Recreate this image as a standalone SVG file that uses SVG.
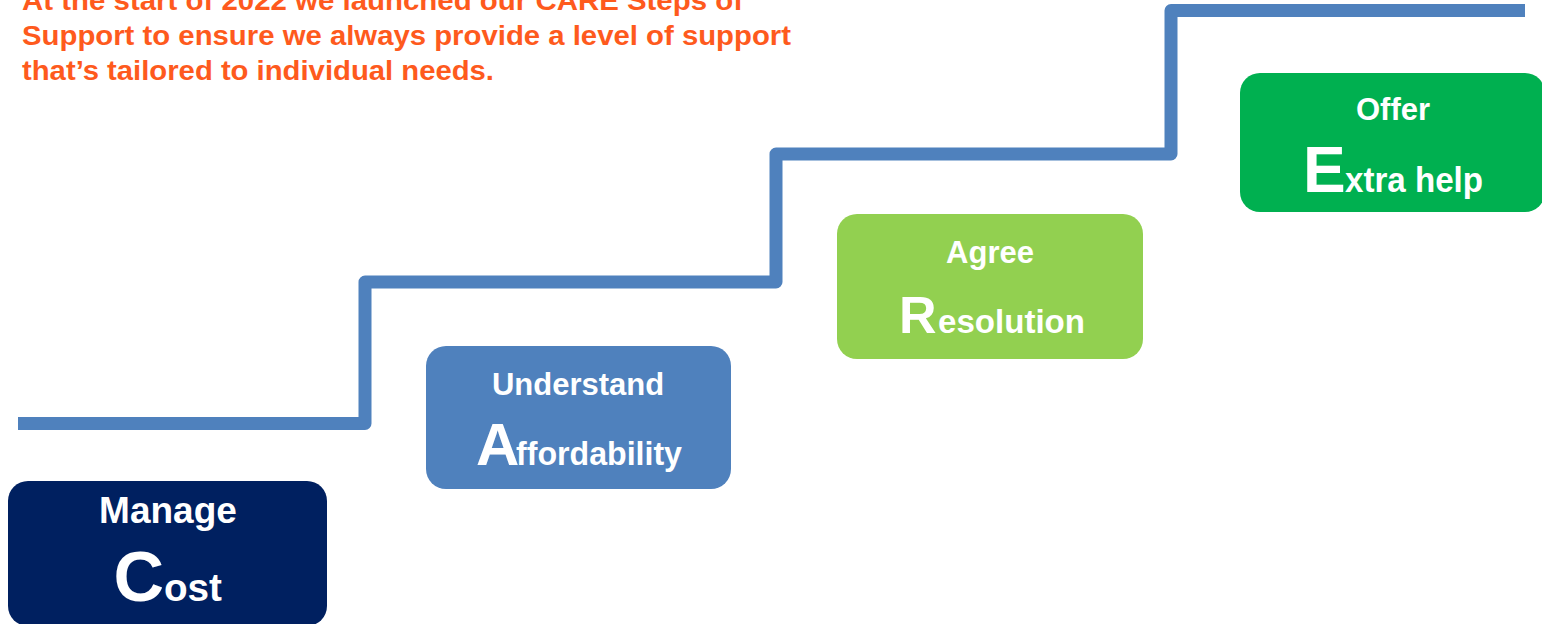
<svg xmlns="http://www.w3.org/2000/svg" width="1542" height="624" viewBox="0 0 1542 624">
  <style>
    .intro { font-family: "Liberation Sans Narrow", "Liberation Sans", Arial, sans-serif; font-weight: bold; font-size: 28px; fill: #FE5A1D; }
    .label { font-family: "Liberation Sans", Arial, sans-serif; font-weight: bold; fill: #FFFFFF; }
    .mid { text-anchor: middle; }
    .stairs { fill: none; stroke: #4F81BD; stroke-width: 13; stroke-linejoin: round; stroke-linecap: butt; }
  </style>

  <!-- introduction -->
  <g id="intro">
    <text class="intro" x="22" y="10" textLength="721" lengthAdjust="spacingAndGlyphs">At the start of 2022 we launched our CARE Steps of</text>
    <text class="intro" x="22" y="45" textLength="769" lengthAdjust="spacingAndGlyphs">Support to ensure we always provide a level of support</text>
    <text class="intro" x="22" y="80" textLength="472" lengthAdjust="spacingAndGlyphs">that’s tailored to individual needs.</text>
  </g>

  <!-- staircase connector -->
  <g id="connectors">
    <path class="stairs" d="M18 423.5 H365 V282 H776 V154 H1171 V10.5 H1525"/>
  </g>

  <!-- steps: heading word, then initial capital followed by the remainder of the word -->
  <g id="step-cost">
    <rect x="8" y="481" width="319" height="145" rx="20" fill="#002060"/>
    <text class="label mid" x="168" y="523" font-size="37">Manage</text>
    <text class="label" x="113.5" y="601" font-size="70">C</text>
    <text class="label" x="164" y="601" font-size="38" textLength="58" lengthAdjust="spacingAndGlyphs">ost</text>
  </g>

  <g id="step-affordability">
    <rect x="426" y="346" width="305" height="143" rx="20" fill="#4F81BD"/>
    <text class="label mid" x="578" y="395" font-size="31">Understand</text>
    <text class="label" x="476" y="465" font-size="60">A</text>
    <text class="label" x="516" y="465" font-size="34" textLength="166" lengthAdjust="spacingAndGlyphs">ffordability</text>
  </g>

  <g id="step-resolution">
    <rect x="837" y="214" width="306" height="145" rx="20" fill="#92D050"/>
    <text class="label mid" x="990" y="263" font-size="31">Agree</text>
    <text class="label" x="899" y="333" font-size="52">R</text>
    <text class="label" x="938" y="333" font-size="34" textLength="147" lengthAdjust="spacingAndGlyphs">esolution</text>
  </g>

  <g id="step-extra">
    <rect x="1240" y="73" width="305" height="139" rx="20" fill="#00B050"/>
    <text class="label mid" x="1393" y="120" font-size="31">Offer</text>
    <text class="label" x="1303" y="192" font-size="64">E</text>
    <text class="label" x="1345" y="192" font-size="35" textLength="138" lengthAdjust="spacingAndGlyphs">xtra help</text>
  </g>
</svg>
